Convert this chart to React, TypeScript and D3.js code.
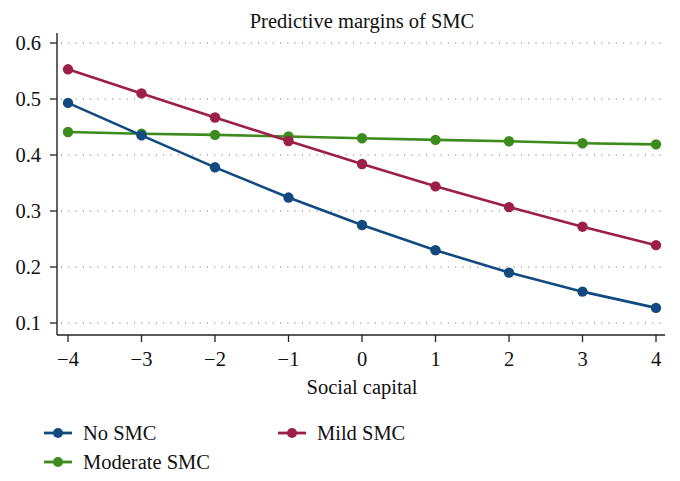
import React from "react";
import * as d3 from "d3";

const xValues = [-4, -3, -2, -1, 0, 1, 2, 3, 4];
const noSMC = [0.493, 0.435, 0.378, 0.324, 0.275, 0.23, 0.19, 0.156, 0.127];
const mildSMC = [0.553, 0.51, 0.467, 0.425, 0.384, 0.344, 0.307, 0.272, 0.239];
const moderateSMC = [0.441, 0.438, 0.436, 0.433, 0.43, 0.427, 0.4245, 0.421, 0.419];
const yTicks = [0.1, 0.2, 0.3, 0.4, 0.5, 0.6];
const seriesNames = ["No SMC", "Mild SMC", "Moderate SMC"];

const colors: Record<string, string> = {
  "No SMC": "#124a80",
  "Mild SMC": "#9c1f4a",
  "Moderate SMC": "#3b8c1c",
};

const FONT = "Liberation Serif, Times New Roman, DejaVu Serif, serif";
const ts: React.CSSProperties = { fontFamily: FONT, fontSize: "20.5px" };

export default function App() {
  const W = 680, H = 481;
  const x = d3.scaleLinear().domain([-4, 4]).range([68, 656]);
  const y = d3.scaleLinear().domain([0.1, 0.6]).range([323, 43]);
  const line = d3
    .line<number>()
    .x((_, i) => x(xValues[i]))
    .y((d) => y(d));
  const series = [
    { name: "Moderate SMC", values: moderateSMC },
    { name: "No SMC", values: noSMC },
    { name: "Mild SMC", values: mildSMC },
  ];
  const legend = [
    { name: seriesNames[0], lx: 44, ly: 433 },
    { name: seriesNames[1], lx: 278, ly: 433 },
    { name: seriesNames[2], lx: 44, ly: 462 },
  ];
  return (
    <svg
      width={W}
      height={H}
      style={{ position: "absolute", left: 0, top: 0, background: "#fff", fontFamily: FONT }}
    >
      <rect width={W} height={H} fill="#fff" />
      <text x={362} y={28} style={ts} textAnchor="middle" fill="#111">
        Predictive margins of SMC
      </text>
      {yTicks.map((t) => (
        <g key={t}>
          <line
            x1={61}
            x2={663}
            y1={y(t)}
            y2={y(t)}
            stroke="#666"
            strokeWidth={1.2}
            strokeDasharray="1 6.3"
          />
          <line x1={50} x2={57} y1={y(t)} y2={y(t)} stroke="#222" strokeWidth={1.3} />
          <text x={41} y={y(t) + 7} style={ts} textAnchor="end" fill="#111">
            {d3.format(".1f")(t)}
          </text>
        </g>
      ))}
      <line x1={57} x2={57} y1={33} y2={335} stroke="#222" strokeWidth={1.4} />
      <line x1={57} x2={665} y1={335} y2={335} stroke="#222" strokeWidth={1.4} />
      {xValues.map((v) => (
        <g key={v}>
          <line x1={x(v)} x2={x(v)} y1={335} y2={342} stroke="#222" strokeWidth={1.3} />
          <text x={x(v)} y={366} style={ts} textAnchor="middle" fill="#111">
            {v < 0 ? "\u2212" + Math.abs(v) : String(v)}
          </text>
        </g>
      ))}
      <text x={362} y={394} style={ts} textAnchor="middle" fill="#111">
        Social capital
      </text>
      {series.map((s) => (
        <g key={s.name}>
          <path d={line(s.values) || ""} fill="none" stroke={colors[s.name]} strokeWidth={2.6} />
          {s.values.map((v, i) => (
            <circle key={i} cx={x(xValues[i])} cy={y(v)} r={5.2} fill={colors[s.name]} />
          ))}
        </g>
      ))}
      {legend.map((l) => (
        <g key={l.name}>
          <line x1={l.lx} x2={l.lx + 28} y1={l.ly} y2={l.ly} stroke={colors[l.name]} strokeWidth={2.8} />
          <circle cx={l.lx + 14} cy={l.ly} r={5} fill={colors[l.name]} />
          <text x={l.lx + 39} y={l.ly + 7} style={ts} fill="#111">
            {l.name}
          </text>
        </g>
      ))}
    </svg>
  );
}
